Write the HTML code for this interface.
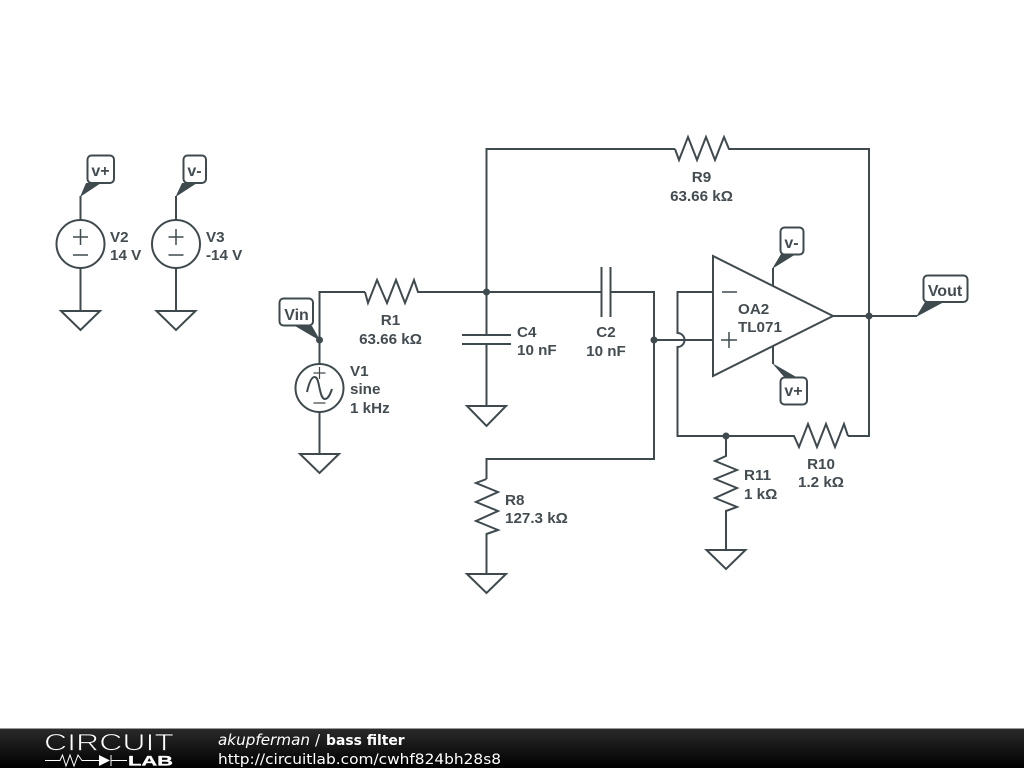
<!DOCTYPE html>
<html>
<head>
<meta charset="utf-8">
<style>
html,body{margin:0;padding:0;background:#fff;width:1024px;height:768px;overflow:hidden}
svg{display:block}
.w{fill:none;stroke:#3f4a4f;stroke-width:2;stroke-linejoin:miter}
.n{fill:none;stroke:#3f4a4f;stroke-width:1.500}
.t{font-family:"Liberation Sans",sans-serif;font-weight:bold;font-size:15.200px;fill:#434c51}
.box{fill:#fff;stroke:#3f4a4f;stroke-width:2}
.tail{fill:#3f4a4f;stroke:none}
.d{fill:#3f4a4f}
.f{font-family:"DejaVu Sans",sans-serif;fill:#fff}
</style>
</head>
<body>
<svg width="1024" height="768" viewBox="0 0 1024 768" xmlns="http://www.w3.org/2000/svg">
<defs>
<linearGradient id="g" x1="0" y1="0" x2="0" y2="1">
<stop offset="0" stop-color="#2a2a2a"/><stop offset="1" stop-color="#000"/>
</linearGradient>
</defs>
<rect width="1024" height="768" fill="#fff"/>

<!-- wires -->
<path class="w" d="M319.500 364V292H365"/>
<path class="w" d="M365 292L368 303L377 280L387 303L396 280L405 303L414 280L418 292H601.500"/>
<path class="w" d="M601.500 267V317M610.500 267V317"/>
<path class="w" d="M610.500 292H654V459H486.500V479"/>
<path class="w" d="M486.500 292V149H675"/>
<path class="w" d="M675 149L679 160L688 137L697 160L706 137L715 160L724 137L729 149H869V436H848"/>
<path class="w" d="M848 436L844 424L835 447L826 424L817 447L808 424L799 447L794 436H677.500V347A7 7 0 0 0 677.500 333V292H713"/>
<path class="w" d="M654 340H713"/>
<path class="w" d="M486.500 292V335M462 335H511M462 344H511M486.500 344V406"/>
<path class="w" d="M726 436V456L715 461L737 470L715 479L737 488L715 498L737 507L726 511V550"/>
<path class="w" d="M486.500 479L476 483L498 492L476 502L498 511L476 521L498 530L486.500 534V574"/>
<path class="w" d="M833 316H917"/>

<!-- grounds -->
<path class="w" d="M61 311H100L80.500 330Z"/>
<path class="w" d="M156.500 311H195.500L176 330Z"/>
<path class="w" d="M300 454H339L319.500 473Z"/>
<path class="w" d="M467 406H506L486.500 426Z"/>
<path class="w" d="M467 574H506L486.500 593Z"/>
<path class="w" d="M706.500 550H745.500L726 569Z"/>

<!-- V2 -->
<path class="w" d="M80.500 196V220M80.500 268V311"/>
<circle class="w" cx="80.500" cy="244" r="24"/>
<path class="n" d="M73 237H88M80.500 229V245M73 255H88"/>
<!-- V3 -->
<path class="w" d="M176 196V220M176 268V311"/>
<circle class="w" cx="176" cy="244" r="24"/>
<path class="n" d="M168.500 237H183.500M176 229V245M168.500 255H183.500"/>
<!-- V1 -->
<path class="w" d="M319.500 340V364M319.500 412V454"/>
<circle class="w" cx="319.500" cy="388" r="24"/>
<path d="M313.500 373H325.500M319.500 367V379M313.500 403H325.500" fill="none" stroke="#3f4a4f" stroke-width="1.200"/>
<path class="w" d="M307 392C309 383 311.500 377 314.500 377C318 377 318.500 384 319.500 388C320.500 392 321.500 399 325 399C328 399 330 395 332 389"/>

<!-- op amp -->
<path class="w" d="M713 256V376L833 316Z"/>
<path class="n" d="M722 292H737M721 340H737M729 332V348"/>
<path class="w" d="M773 286V268M773 346V364"/>

<!-- nodes -->
<circle class="d" cx="319.500" cy="340" r="3.500"/>
<circle class="d" cx="486.500" cy="292" r="3.500"/>
<circle class="d" cx="654" cy="340" r="3.500"/>
<circle class="d" cx="869" cy="316" r="3.500"/>
<circle class="d" cx="726" cy="436" r="3.500"/>

<!-- tags -->
<path class="tail" d="M80 197L86 183H101Z"/>
<rect class="box" x="87.500" y="155.500" width="26.500" height="27.500" rx="4"/>
<text class="t" x="100.500" y="176" text-anchor="middle" style="font-size:16px">v+</text>

<path class="tail" d="M175.500 197L182 183H197Z"/>
<rect class="box" x="183.500" y="155.500" width="22.500" height="27.500" rx="4"/>
<text class="t" x="194.500" y="176" text-anchor="middle" style="font-size:16px">v-</text>

<path class="tail" d="M320.500 341L295 326H312Z"/>
<rect class="box" x="279.500" y="298.500" width="33.500" height="27" rx="4"/>
<text class="t" x="296.500" y="320" text-anchor="middle" style="font-size:16px">Vin</text>

<path class="tail" d="M772 269L781 254H796Z"/>
<rect class="box" x="780.500" y="227.500" width="23" height="27" rx="4"/>
<text class="t" x="791.500" y="248" text-anchor="middle" style="font-size:16px">v-</text>

<path class="tail" d="M772 363L785 378H798Z"/>
<rect class="box" x="780.500" y="377.500" width="26.500" height="27" rx="4"/>
<text class="t" x="793.500" y="396" text-anchor="middle" style="font-size:16px">v+</text>

<path class="tail" d="M916 317L925 302H944Z"/>
<rect class="box" x="923.500" y="275.500" width="44" height="26.500" rx="4"/>
<text class="t" x="945" y="296" text-anchor="middle" style="font-size:16px">Vout</text>

<!-- labels -->
<text class="t" x="110" y="242">V2</text>
<text class="t" x="110" y="260">14 V</text>
<text class="t" x="206" y="242">V3</text>
<text class="t" x="206" y="260">-14 V</text>
<text class="t" x="350" y="376">V1</text>
<text class="t" x="350" y="394">sine</text>
<text class="t" x="350" y="413">1 kHz</text>
<text class="t" x="390.500" y="344" text-anchor="middle">63.66 kΩ</text>
<text class="t" x="390.500" y="325" text-anchor="middle">R1</text>
<text class="t" x="517" y="337">C4</text>
<text class="t" x="517" y="355">10 nF</text>
<text class="t" x="606" y="337" text-anchor="middle">C2</text>
<text class="t" x="606" y="356" text-anchor="middle">10 nF</text>
<text class="t" x="701.500" y="182" text-anchor="middle">R9</text>
<text class="t" x="701.500" y="201" text-anchor="middle">63.66 kΩ</text>
<text class="t" x="738" y="314">OA2</text>
<text class="t" x="738" y="332">TL071</text>
<text class="t" x="505" y="505">R8</text>
<text class="t" x="505" y="523">127.3 kΩ</text>
<text class="t" x="744" y="480">R11</text>
<text class="t" x="744" y="499">1 kΩ</text>
<text class="t" x="821" y="469" text-anchor="middle">R10</text>
<text class="t" x="821" y="487" text-anchor="middle">1.2 kΩ</text>

<!-- footer -->
<rect x="0" y="728" width="1024" height="1" fill="#999"/>
<rect x="0" y="729" width="1024" height="39" fill="url(#g)"/>
<text x="44" y="750.500" textLength="130" lengthAdjust="spacingAndGlyphs" font-family="Liberation Sans, sans-serif" font-size="24" fill="#fff" stroke="#1c1c1c" stroke-width="0.800">CIRCUIT</text>
<path d="M45 760.500H60L62.500 755L66 766L70 755L74 766L78 755L82 760.500H99M111 755V766M111 760.500H127" fill="none" stroke="#fff" stroke-width="1"/>
<path d="M99 755V766L110 760.500Z" fill="#fff"/>
<text x="128" y="765.500" textLength="45" lengthAdjust="spacingAndGlyphs" font-family="Liberation Sans, sans-serif" font-weight="bold" font-size="14" fill="#fff" stroke="#fff" stroke-width="0.300">LAB</text>
<text class="f" x="218" y="745" font-size="15.200" font-style="italic">akupferman</text>
<text class="f" x="315" y="745" font-size="15">/</text>
<text class="f" x="326" y="745" font-size="13.900" font-weight="bold">bass filter</text>
<text class="f" x="218" y="764" font-size="14.500" textLength="283" lengthAdjust="spacingAndGlyphs">http://circuitlab.com/cwhf824bh28s8</text>
</svg>
</body>
</html>
